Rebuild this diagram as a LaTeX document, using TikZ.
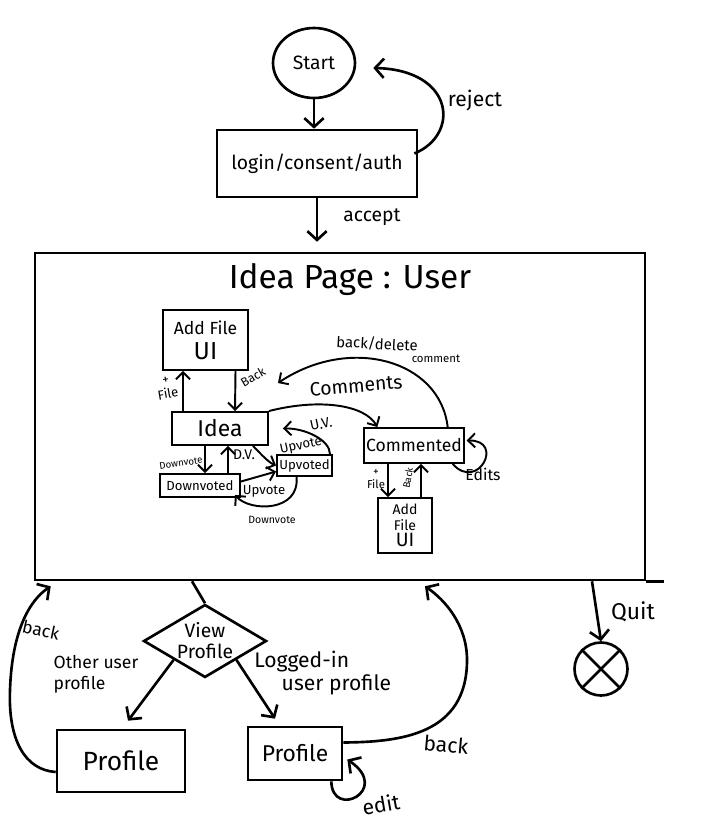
\documentclass[tikz,border=0pt]{standalone}
\usepackage{fontspec}
\setmainfont{Fira Sans}
\usetikzlibrary{arrows.meta,calc,shapes.geometric}
\newcommand\fsz[2]{\fontsize{#1}{#2}\selectfont}
\begin{document}
\begin{tikzpicture}[x=0.02cm,y=-0.02cm,
  main/.style={line width=1.5pt},
  thin/.style={line width=1.1pt},
  arr/.style={main,-{Straight Barb[length=5pt,width=11pt]}},
  iarr/.style={thin,-{Straight Barb[length=4pt,width=8pt]}},
  box/.style={draw,main,rectangle,inner sep=1pt,align=center},
  ibox/.style={draw,thin,rectangle,inner sep=1pt,align=center},
  lbl/.style={inner sep=0pt,align=center}]
\useasboundingbox (0,0) rectangle (706,838);

% top part
\node[ellipse,draw,main,minimum width=1.64cm,minimum height=1.4cm,inner sep=0pt,font=\fsz{11}{13}] (start) at (314,63) {Start};
\node[box,minimum width=4.0cm,minimum height=1.34cm,font=\fsz{11}{13}] (login) at (317,163.5) {login/consent/auth};
\node[draw,main,minimum width=12.2cm,minimum height=6.54cm,inner sep=0pt] (page) at (340,416.5) {};
\draw[main] (page.south east) -- +(18,0);
\node[font=\fsz{19}{22}] (title) at (350,280) {Idea Page : User};

\draw[arr] (start.south) -- (start.south |- login.north);
\draw[arr] ($(login.east)+(-4,-10)$) .. controls (460,135) and (455,70) .. ($(start.east)+(17,5)$)
  node[lbl,font=\fsz{12}{14}] at (475,101) {reject};
\draw[arr] (login.south) -- ($(login.south |- page.north)+(0,-10)$)
  node[lbl,font=\fsz{11}{13}] at (372,217) {accept};

% inner diagram
\node[ibox,minimum width=1.7cm,minimum height=1.2cm,font=\fsz{10}{14}] (af1) at (205.5,340) {Add File\\{\fsz{14}{16}UI}};
\node[ibox,minimum width=1.92cm,minimum height=0.66cm,font=\fsz{13}{15}] (idea) at (220,428.5) {Idea};
\node[ibox,minimum width=1.6cm,minimum height=0.46cm,font=\fsz{7.5}{9}] (down) at (200,485.5) {Downvoted};
\node[ibox,minimum width=1.1cm,minimum height=0.42cm,font=\fsz{7.5}{9}] (up) at (304.5,465.5) {Upvoted};
\node[ibox,minimum width=1.84cm,minimum height=0.7cm,font=\fsz{10}{12}] (com) at (414,445.5) {Commented};
\node[ibox,minimum width=1.08cm,minimum height=1.1cm,inner sep=0pt,font=\fsz{8}{9}] (af2) at (405,525.5) {Add\\File\\{\fsz{11}{12}UI}};

\draw[iarr] ($(idea.north)+(-37,0)$) -- ($(af1.south)+(-22.5,0)$)
  node[lbl,font=\fsz{7.5}{8},rotate=10] at (167,388) {+\\File};
\draw[iarr] ($(af1.south)+(30,0)$) -- ($(idea.north)+(15,0)$)
  node[lbl,font=\fsz{7}{9},rotate=30] at (253,377) {Back};
\draw[iarr] (idea.north east) .. controls (320,398) and (365,405) .. ($(com.north west)+(14,0)$)
  node[lbl,font=\fsz{11}{13},rotate=5] at (356,386) {Comments};
\draw[iarr] ($(com.north east)+(-17,0)$) .. controls (440,360) and (350,335) .. ($(idea.north east)+(9,-28)$)
  node[lbl,font=\fsz{8.5}{10},rotate=-3] at (377,344) {back/delete}
  node[lbl,font=\fsz{6.5}{8}] at (436,359) {comment};
\draw[iarr] ($(com.south east)+(-12,0)$) .. controls (478,492) and (505,440) .. ($(com.east)+(2,-5)$)
  node[lbl,font=\fsz{9}{11}] at (483,474) {Edits};
\draw[iarr] ($(com.south)+(-26,0)$) -- ($(af2.north)+(-17,0)$)
  node[lbl,font=\fsz{6.5}{7}] at (376,479) {+\\File};
\draw[iarr] ($(af2.north)+(16,0)$) -- ($(com.south)+(7,0)$)
  node[lbl,font=\fsz{5.5}{7},rotate=80] at (408,478) {Back};

\draw[iarr] ($(idea.south)+(-15,0)$) -- ($(down.north)+(5,0)$)
  node[lbl,font=\fsz{5.5}{7},rotate=8] at (181,463) {Downvote};
\draw[iarr] ($(down.north)+(28,0)$) -- ($(idea.south)+(8,0)$)
  node[lbl,font=\fsz{8}{10}] at (244,455) {D.V.};
\draw[iarr] ($(idea.south east)+(-16,0)$) .. controls (262,455) and (268,462) .. (up.west)
  node[lbl,font=\fsz{7.5}{9},rotate=12] at (301,446) {Upvote};
\draw[iarr] ($(up.north east)+(-3,0)$) .. controls (330,440) and (305,428) .. ($(idea.east)+(14,0)$)
  node[lbl,font=\fsz{8}{10},rotate=12] at (321,424) {U.V.};
\draw[iarr] ($(down.east)+(0,-4)$) -- ($(up.west)+(0,6)$)
  node[lbl,font=\fsz{7.5}{9}] at (264,491) {Upvote};
\draw[iarr] ($(up.south)+(-8,0)$) .. controls (300,512) and (250,512) .. ($(down.south east)+(-6,-3)$)
  node[lbl,font=\fsz{6}{8}] at (272,520) {Downvote};

% bottom part
\node[diamond,draw,main,minimum width=2.46cm,minimum height=1.46cm,inner sep=0pt,
  label={[align=center,font=\fsz{11}{12}]center:View\\Profile}] (vp) at (205,641) {};
\node[box,minimum width=2.56cm,minimum height=1.24cm,font=\fsz{15}{18}] (prof1) at (121,761) {Profile};
\node[box,minimum width=1.88cm,minimum height=1.06cm,font=\fsz{13}{15}] (prof2) at (295,753.5) {Profile};
\node[circle,draw,main,minimum size=1.06cm,inner sep=0pt] (quit) at (601,669) {};
\draw[main] (quit.north west) -- (quit.south east) (quit.north east) -- (quit.south west);

\draw[main] ($(page.south)+(-148,0)$) -- (vp.north);
\draw[arr] (vp.south west) -- ($(prof1.north)+(7,-8)$)
  node[lbl,align=left,font=\fsz{10}{12}] at (96,674) {Other user\\profile};
\draw[arr] (vp.south east) -- ($(prof2.north)+(-20,-7)$)
  node[lbl,align=left,anchor=west,font=\fsz{12}{13}] at (253,673) {Logged-in\\\hspace*{1.3em}user profile};
\draw[arr] ($(prof1.west)+(0,11)$) .. controls (25,770) and (8,740) .. (10,690)
  .. controls (12,630) and (30,600) .. ($(page.south west)+(17,5)$)
  node[lbl,font=\fsz{10}{12},rotate=-12] at (41,630) {back};
\draw[arr] ($(prof2.east)+(0,-11)$) .. controls (400,742) and (467,735) .. (467,660)
  .. controls (467,625) and (445,600) .. ($(page.south)+(85,5)$)
  node[lbl,font=\fsz{12}{14},rotate=-5] at (446,745) {back};
\draw[arr] ($(prof2.south east)+(-12,0)$) .. controls (332,820) and (392,790) .. ($(prof2.east)+(4,6)$)
  node[lbl,font=\fsz{12}{14},rotate=10] at (381,804) {edit};
\draw[arr] ($(page.south)+(252,0)$) -- (quit.north)
  node[lbl,font=\fsz{13}{15}] at (633,612) {Quit};
\end{tikzpicture}
\end{document}
